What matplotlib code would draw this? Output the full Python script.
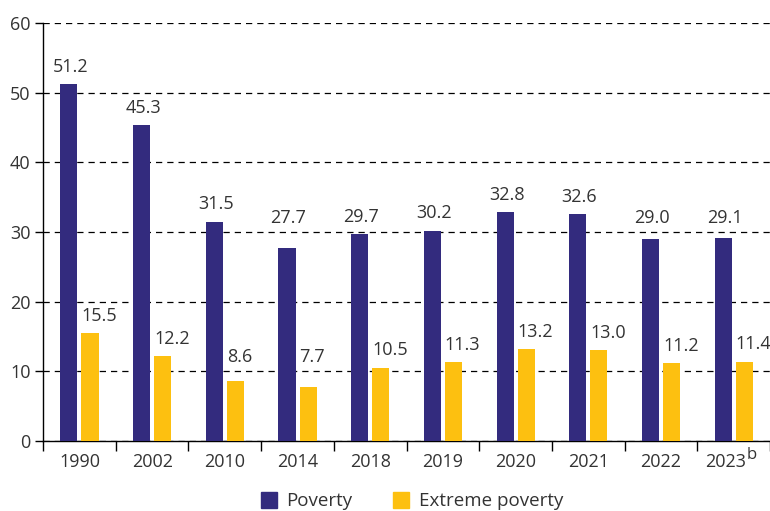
import matplotlib
matplotlib.use('Agg')
import matplotlib.pyplot as plt
import matplotlib.transforms as mtransforms
import numpy as np
from matplotlib.patches import Patch

years = ['1990', '2002', '2010', '2014', '2018', '2019', '2020', '2021', '2022', '2023']
poverty = [51.2, 45.3, 31.5, 27.7, 29.7, 30.2, 32.8, 32.6, 29.0, 29.1]
extreme = [15.5, 12.2, 8.6, 7.7, 10.5, 11.3, 13.2, 13.0, 11.2, 11.4]

navy = '#332b7e'
gold = '#fdc010'
txt = '#333333'

plt.rcParams['font.family'] = ['Open Sans', 'DejaVu Sans']


def label_y(v, gap=1.2, h=2.4, step=10):
    # keep the value label clear of the dashed grid line above the bar
    y = v + gap
    g = (np.floor(v / step) + 1) * step
    if y < g + 0.5 and y + h > g:
        y = g + 0.7
    return y


fig = plt.figure(figsize=(7.7, 5.11), dpi=100)
ax = fig.add_axes([0.056, 0.137, 0.944, 0.818])

x = np.arange(len(years))
off = 0.145
w = 0.235
b1 = ax.bar(x - off, poverty, w, color=navy, zorder=3)
b2 = ax.bar(x + off, extreme, w, color=gold, zorder=3)

for b, v in zip(b1, poverty):
    ax.text(b.get_x() + b.get_width() / 2 + 0.02, label_y(v), '%.1f' % v,
            ha='center', va='bottom', fontsize=13, color=txt)
for b, v in zip(b2, extreme):
    ax.text(b.get_x(), label_y(v), '%.1f' % v,
            ha='left', va='bottom', fontsize=13, color=txt)

ax.set_xlim(-0.5, len(years) - 0.5)
ax.set_ylim(0, 60)
ax.set_yticks(range(0, 61, 10))
ax.yaxis.grid(True, linestyle=(0, (5, 4)), color='black', linewidth=0.9, zorder=0)
ax.set_axisbelow(True)

# group boundaries as ticks, labels centred between them
ax.set_xticks(np.arange(-0.5, len(years), 1.0))
ax.set_xticklabels([])
ax.set_xticks(x, minor=True)
ax.set_xticklabels(years, minor=True)
ax.tick_params(axis='x', which='major', length=7, width=1, color='black', direction='out')
ax.tick_params(axis='x', which='minor', length=0, pad=9, labelsize=13, labelcolor=txt)
ax.tick_params(axis='y', length=6, width=1, labelsize=13, labelcolor=txt, pad=3)

# last year carries a footnote marker: nudge it left and add the "b"
last = ax.get_xticklabels(minor=True)[-1]
last.set_transform(last.get_transform() +
                   mtransforms.ScaledTranslation(-8 / 100, 0, fig.dpi_scale_trans))
ax.annotate('b', xy=(x[-1], 0), xycoords=('data', 'axes fraction'),
            xytext=(18, -14), textcoords='offset pixels',
            fontsize=12, color=txt, ha='center', va='center')

for s in ('top', 'right'):
    ax.spines[s].set_visible(False)
ax.spines['left'].set_linewidth(1)
ax.spines['bottom'].set_linewidth(1)

handles = [Patch(color=navy, label='Poverty'), Patch(color=gold, label='Extreme poverty')]
fig.legend(handles=handles, loc='lower center', bbox_to_anchor=(0.535, -0.032), ncol=2,
           frameon=False, fontsize=13.5, handlelength=0.85, handleheight=1.0,
           columnspacing=2.2, handletextpad=0.5, labelcolor=txt)

fig.savefig('out.png', dpi=100)
